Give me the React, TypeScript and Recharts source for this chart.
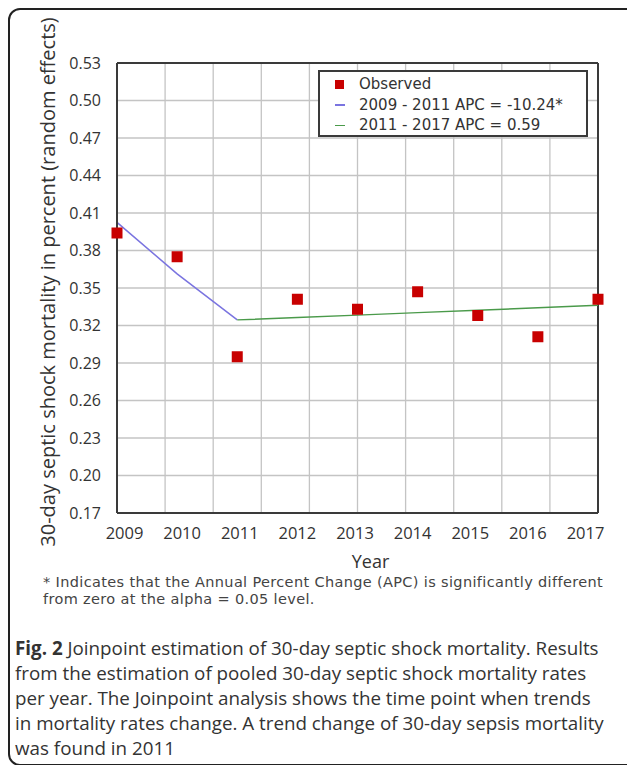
import { ComposedChart, Line, Scatter, XAxis, YAxis, CartesianGrid, Legend, Label } from 'recharts';

const years = [2009, 2010, 2011, 2012, 2013, 2014, 2015, 2016, 2017];
const observed = [0.394, 0.375, 0.295, 0.341, 0.333, 0.347, 0.328, 0.311, 0.341];
const trend0911 = [0.4025, 0.3613, 0.3245, null, null, null, null, null, null];
const trend1117 = [null, null, 0.3245, 0.3264, 0.3283, 0.3303, 0.3322, 0.3342, 0.3362];

const yTicks = [0.17, 0.2, 0.23, 0.26, 0.29, 0.32, 0.35, 0.38, 0.41, 0.44, 0.47, 0.5, 0.53];
// vertical grid lines: 10 equal steps, they do not sit on the years
const gridX = [2009, 2009.8, 2010.6, 2011.4, 2012.2, 2013, 2013.8, 2014.6, 2015.4, 2016.2, 2017];

const seriesNames = ['Observed', '2009 - 2011 APC = -10.24*', '2011 - 2017 APC = 0.59'];

const data = years.map((year, i) => ({
  year,
  observed: observed[i],
  seg1: trend0911[i],
  seg2: trend1117[i],
}));

const W = 627;
const H = 575;
const MARGIN = { top: 63, right: 29, left: 10, bottom: 7 };
const Y_AXIS_W = 107;
const X_AXIS_H = 55;
const PLOT_X = MARGIN.left + Y_AXIS_W;
const PLOT_Y = MARGIN.top;
const PLOT_W = W - MARGIN.left - MARGIN.right - Y_AXIS_W;
const PLOT_H = H - MARGIN.top - MARGIN.bottom - X_AXIS_H;
const X_MIN = years[0];
const X_MAX = years[years.length - 1];

// grid columns in pixels, from the same linear domain as the x axis
const gridColumns = gridX.map((v) => PLOT_X + ((v - X_MIN) / (X_MAX - X_MIN)) * PLOT_W);

const FONT = "'Open Sans', 'DejaVu Sans', sans-serif";
const TEXT = '#333';
const FRAME = '#3a3a3a';
const GRID = '#c4c4c4';

const RED = '#c80000';
const BLUE = '#7a74e0';
const GREEN = '#4a9a4a';

function SquareDot(props: any) {
  const { cx, cy } = props;
  if (cx == null || cy == null) return <g />;
  const s = 11;
  return <rect x={cx - s / 2} y={cy - s / 2} width={s} height={s} fill={RED} />;
}

function YearTick(props: any) {
  const { x, y, payload, index } = props;
  // the year labels sit slightly inside the point columns in the original
  const dx = (3 - index) * 2.5;
  return (
    <text x={x + dx} y={y} dy={12} textAnchor="middle" fill={TEXT} fontSize={16.5} fontFamily={FONT}>
      {payload.value}
    </text>
  );
}

function LegendBox(props: any) {
  const items = [...(props.payload || [])]
    .filter((a: any) => seriesNames.includes(a.value))
    .sort((a: any, b: any) => seriesNames.indexOf(a.value) - seriesNames.indexOf(b.value));
  return (
    <div
      style={{
        width: 270,
        height: 67,
        boxSizing: 'border-box',
        border: `2px solid ${FRAME}`,
        background: '#fff',
        paddingTop: 2,
        fontFamily: "'DejaVu Sans', sans-serif",
        fontSize: 15,
        color: TEXT,
      }}
    >
      {items.map((it: any) => (
        <div key={it.value} style={{ display: 'flex', alignItems: 'center', height: 20.5 }}>
          <div style={{ width: 39, display: 'flex', justifyContent: 'center' }}>
            {it.type === 'square' ? (
              <div style={{ width: 9, height: 9, background: RED }} />
            ) : (
              <div style={{ width: 10, height: 1.5, background: it.color }} />
            )}
          </div>
          <span style={{ whiteSpace: 'nowrap' }}>{it.value}</span>
        </div>
      ))}
    </div>
  );
}

export default function App() {
  return (
    <div style={{ position: 'relative', width: 627, height: 765, background: '#fff', overflow: 'hidden' }}>
      <style>{`body{margin:0;background:#fff}`}</style>
      <div
        style={{
          position: 'absolute',
          left: 8,
          top: 8,
          width: 640,
          height: 758,
          border: '2px solid #222',
          borderRadius: 12,
          boxSizing: 'border-box',
        }}
      />
      <div style={{ position: 'absolute', left: 0, top: 0 }}>
        <ComposedChart width={W} height={H} data={data} margin={MARGIN}>
          <CartesianGrid vertical={false} stroke={GRID} strokeWidth={1.3} />
          <CartesianGrid horizontal={false} verticalPoints={gridColumns} stroke={GRID} strokeWidth={1.3} />
          {/* plot frame */}
          <CartesianGrid
            horizontalPoints={[PLOT_Y, PLOT_Y + PLOT_H]}
            verticalPoints={[PLOT_X, PLOT_X + PLOT_W]}
            stroke={FRAME}
            strokeWidth={2}
          />
          <XAxis
            dataKey="year"
            type="number"
            domain={[X_MIN, X_MAX]}
            ticks={years}
            tickLine={false}
            axisLine={{ stroke: FRAME, strokeWidth: 2 }}
            tick={<YearTick />}
            tickMargin={8}
            height={X_AXIS_H}
          >
            <Label value="Year" position="insideBottom" offset={0} dx={13} fill={TEXT} fontSize={18} fontFamily={FONT} />
          </XAxis>
          <YAxis
            type="number"
            domain={[0.17, 0.53]}
            ticks={yTicks}
            tickFormatter={(v: number) => v.toFixed(2)}
            tickLine={false}
            axisLine={{ stroke: FRAME, strokeWidth: 2 }}
            tick={{ fill: TEXT, fontSize: 16, fontFamily: FONT }}
            tickMargin={10}
            width={Y_AXIS_W}
          >
            <Label
              value="30-day septic shock mortality in percent (random effects)"
              angle={-90}
              position="insideLeft"
              offset={38}
              dy={-6}
              fill={TEXT}
              fontSize={20}
              fontFamily={FONT}
              style={{ textAnchor: 'middle' }}
            />
          </YAxis>
          <Line
            name={seriesNames[1]}
            dataKey="seg1"
            type="linear"
            stroke={BLUE}
            strokeWidth={1.5}
            dot={false}
            legendType="line"
            isAnimationActive={false}
          />
          <Line
            name={seriesNames[2]}
            dataKey="seg2"
            type="linear"
            stroke={GREEN}
            strokeWidth={1.5}
            dot={false}
            legendType="line"
            isAnimationActive={false}
          />
          <Scatter
            name={seriesNames[0]}
            dataKey="observed"
            fill={RED}
            shape={<SquareDot />}
            legendType="square"
            isAnimationActive={false}
          />
          <Legend
            content={<LegendBox />}
            layout="horizontal"
            verticalAlign="middle"
            align="center"
            wrapperStyle={{ position: 'absolute', left: 318, top: 70, width: 270 }}
          />
        </ComposedChart>
      </div>
      <div
        style={{
          position: 'absolute',
          left: 43,
          top: 574,
          fontFamily: "'DejaVu Sans', sans-serif",
          fontSize: 14.5,
          letterSpacing: 0.35,
          lineHeight: '17px',
          color: '#444',
          whiteSpace: 'nowrap',
        }}
      >
        * Indicates that the Annual Percent Change (APC) is significantly different
        <br />
        from zero at the alpha = 0.05 level.
      </div>
      <div
        style={{
          position: 'absolute',
          left: 15,
          top: 636,
          fontFamily: FONT,
          fontSize: 18.8,
          lineHeight: '25px',
          color: '#333',
          whiteSpace: 'nowrap',
        }}
      >
        <b>Fig. 2</b> Joinpoint estimation of 30-day septic shock mortality. Results
        <br />
        from the estimation of pooled 30-day septic shock mortality rates
        <br />
        per year. The Joinpoint analysis shows the time point when trends
        <br />
        in mortality rates change. A trend change of 30-day sepsis mortality
        <br />
        was found in 2011
      </div>
    </div>
  );
}
